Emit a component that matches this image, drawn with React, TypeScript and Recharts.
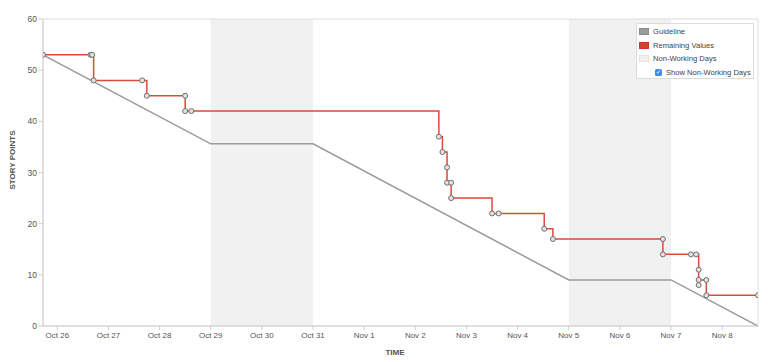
import { Label, Line, LineChart, ReferenceArea, XAxis, YAxis } from "recharts";

// x is days since Oct 26 (midnight), y is story points
const dayLabels = ["Oct 26", "Oct 27", "Oct 28", "Oct 29", "Oct 30", "Oct 31", "Nov 1", "Nov 2", "Nov 3", "Nov 4", "Nov 5", "Nov 6", "Nov 7", "Nov 8"];
const dayTicks = dayLabels.map((_, i) => i);
const pointTicks = [0, 10, 20, 30, 40, 50, 60];

const nonWorkingDays: Array<[number, number]> = [
  [3, 5],
  [10, 12],
];

const guidelineX = [-0.28, 3, 5, 10, 12, 13.7];
const guidelineY = [53, 35.6, 35.6, 9.0, 9.0, 0];

const remainingX = [
  -0.28, 0.65, 0.68, 0.71, 1.66, 1.75, 2.5, 2.5, 2.62, 7.46, 7.53, 7.62, 7.62, 7.7, 7.7, 8.5, 8.63, 9.52, 9.69, 11.84, 11.84,
  12.39, 12.49, 12.54, 12.54, 12.54, 12.69, 12.69, 13.7,
];
const remainingY = [53, 53, 53, 48, 48, 45, 45, 42, 42, 37, 34, 31, 28, 28, 25, 22, 22, 19, 17, 17, 14, 14, 14, 11, 8, 9, 9, 6, 6];

const guideline = guidelineX.map((x, i) => ({ x, y: guidelineY[i] }));
const remaining = remainingX.map((x, i) => ({ x, y: remainingY[i] }));

const font = "'Liberation Sans', Arial, sans-serif";
const domainX: [number, number] = [-0.28, 13.7];

function LegendBox() {
  const row = { display: "flex", alignItems: "center", height: 13.5, whiteSpace: "nowrap" } as const;
  const swatch = (bg: string, border: string) => ({
    width: 10,
    height: 7,
    flex: "none",
    background: bg,
    border: `1px solid ${border}`,
    boxSizing: "border-box" as const,
    marginRight: 4,
  });

  return (
    <div
      style={{
        position: "absolute",
        left: 636,
        top: 23,
        width: 118,
        height: 56,
        boxSizing: "border-box",
        border: "1px solid #dcdcdc",
        background: "#fff",
        padding: "1px 0 0 2px",
        fontFamily: font,
        fontSize: 7.6,
        color: "#444",
      }}
    >
      <div style={row}>
        <span style={swatch("#9a9a9a", "#8c8c8c")} />
        Guideline
      </div>
      <div style={row}>
        <span style={swatch("#d9412f", "#c8382a")} />
        Remaining Values
      </div>
      <div style={row}>
        <span style={swatch("#f1f1f1", "#e2e2e2")} />
        Non-Working Days
      </div>
      <div style={{ ...row, paddingLeft: 16 }}>
        <span
          style={{
            width: 7,
            height: 7,
            flex: "none",
            borderRadius: 1.5,
            background: "#3b8ef0",
            color: "#fff",
            fontSize: 6,
            lineHeight: "7px",
            textAlign: "center",
            marginRight: 4,
          }}
        >
          ✓
        </span>
        Show Non-Working Days
      </div>
    </div>
  );
}

export default function App() {
  return (
    <div style={{ position: "absolute", left: 0, top: 0, width: 768, height: 362, background: "#fff" }}>
      <LineChart width={768} height={362} margin={{ top: 19, right: 10, bottom: 0, left: 0 }} style={{ fontFamily: font }}>
        {nonWorkingDays.map(([a, b]) => (
          <ReferenceArea key={a} x1={a} x2={b} y1={0} y2={60} fill="#f1f1f1" fillOpacity={1} stroke="none" />
        ))}
        <ReferenceArea x1={domainX[0]} x2={domainX[1]} y1={0} y2={60} fill="none" stroke="#dedede" strokeWidth={1} />
        <XAxis
          dataKey="x"
          type="number"
          domain={domainX}
          allowDataOverflow
          ticks={dayTicks}
          tickFormatter={(v: number) => dayLabels[v] ?? ""}
          interval={0}
          height={36}
          tickSize={4}
          tickMargin={2}
          stroke="#cfcfcf"
          tick={{ fontSize: 8, fill: "#555", fontFamily: font }}
        >
          <Label
            content={() => (
              <text x={395} y={355} textAnchor="middle" fontSize={8} fontWeight="bold" fill="#555" fontFamily={font}>
                TIME
              </text>
            )}
          />
        </XAxis>
        <YAxis
          type="number"
          domain={[0, 60]}
          ticks={pointTicks}
          interval={0}
          width={43}
          tickSize={4}
          tickMargin={2}
          stroke="#cfcfcf"
          tick={{ fontSize: 8.5, fill: "#555", fontFamily: font }}
        >
          <Label
            content={() => (
              <text
                x={15}
                y={160}
                transform="rotate(-90 15 160)"
                textAnchor="middle"
                fontSize={8}
                fontWeight="bold"
                fill="#555"
                fontFamily={font}
              >
                STORY POINTS
              </text>
            )}
          />
        </YAxis>
        <Line data={guideline} dataKey="y" type="linear" stroke="#9a9a9a" strokeWidth={1.5} dot={false} isAnimationActive={false} />
        <Line
          data={remaining}
          dataKey="y"
          type="stepAfter"
          stroke="#dc4a38"
          strokeWidth={1.5}
          dot={{ r: 2.5, fill: "#e6e0e0", stroke: "#6f6f6f", strokeWidth: 1 }}
          isAnimationActive={false}
        />
      </LineChart>
      <LegendBox />
    </div>
  );
}
